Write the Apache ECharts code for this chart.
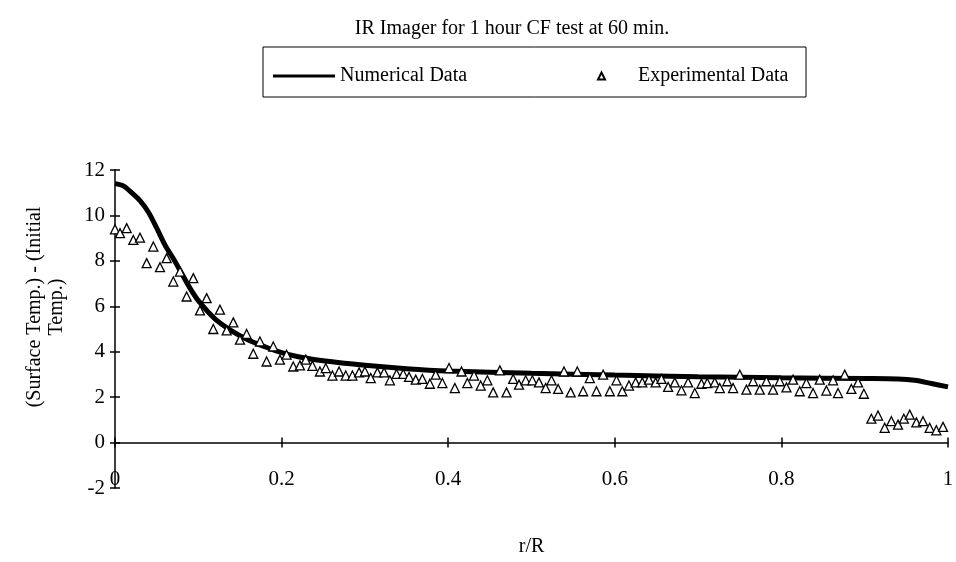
<!DOCTYPE html>
<html>
<head>
<meta charset="utf-8">
<script src="https://cdn.jsdelivr.net/npm/echarts@6/dist/echarts.min.js"></script>
<style>html,body{margin:0;padding:0;background:#fff}#c{width:956px;height:562px}</style>
</head>
<body>
<div id="c"></div>
<script>
var titleText = 'IR Imager for 1 hour CF test at 60 min.';
var seriesNames = ['Numerical Data', 'Experimental Data'];
var xTitle = 'r/R';
var yTitle = '(Surface Temp.) - (Initial\nTemp.)';

var numR = [0, 0.01, 0.02, 0.03, 0.04, 0.05, 0.06, 0.07, 0.08, 0.09, 0.10, 0.12, 0.14, 0.16, 0.18, 0.20, 0.22, 0.25, 0.30, 0.35, 0.40, 0.50, 0.60, 0.70, 0.80, 0.90, 0.94, 0.96, 0.98, 1.00];
var numY = [11.4, 11.3, 11.0, 10.65, 10.15, 9.45, 8.7, 8.1, 7.45, 6.8, 6.25, 5.45, 4.92, 4.52, 4.22, 3.96, 3.78, 3.6, 3.4, 3.25, 3.15, 3.05, 2.97, 2.9, 2.85, 2.82, 2.8, 2.74, 2.6, 2.45];

var expR = [0.000,0.006,0.014,0.022,0.030,0.038,0.046,0.054,0.062,0.070,
0.078,0.086,0.094,0.102,0.110,0.118,0.126,0.134,0.142,0.150,
0.158,0.166,0.174,0.182,0.190,0.198,0.206,0.214,0.222,0.229,
0.237,0.246,0.253,0.261,0.269,0.277,0.285,0.293,0.300,0.307,
0.315,0.323,0.330,0.338,0.346,0.353,0.361,0.369,0.378,0.385,
0.393,0.401,0.408,0.416,0.423,0.431,0.439,0.447,0.454,0.462,
0.470,0.478,0.485,0.493,0.501,0.509,0.517,0.524,0.532,0.539,
0.547,0.555,0.562,0.570,0.578,0.586,0.594,0.602,0.609,0.617,
0.625,0.633,0.641,0.649,0.656,0.664,0.672,0.680,0.688,0.696,
0.704,0.711,0.720,0.726,0.735,0.742,0.750,0.758,0.766,0.774,
0.782,0.790,0.798,0.806,0.814,0.822,0.830,0.838,0.846,0.854,
0.862,0.868,0.876,0.884,0.892,0.899,0.908,0.916,0.924,0.932,
0.940,0.947,0.954,0.962,0.970,0.978,0.986,0.994];
var expY = [9.39,9.22,9.44,8.92,9.02,7.90,8.63,7.72,8.12,7.09,
7.53,6.43,7.24,5.82,6.36,5.00,5.85,4.94,5.29,4.53,
4.78,3.91,4.45,3.57,4.23,3.65,3.87,3.35,3.40,3.65,
3.38,3.13,3.28,2.95,3.13,2.95,2.95,3.09,3.13,2.84,
3.09,3.09,2.74,3.02,3.02,2.89,2.77,2.80,2.59,2.99,
2.62,3.28,2.40,3.13,2.62,2.95,2.51,2.74,2.21,3.18,
2.21,2.80,2.55,2.74,2.74,2.65,2.40,2.74,2.36,3.13,
2.21,3.13,2.26,2.84,2.26,2.99,2.26,2.74,2.26,2.51,
2.65,2.65,2.77,2.65,2.80,2.45,2.65,2.30,2.65,2.18,
2.59,2.62,2.65,2.40,2.70,2.40,2.99,2.33,2.70,2.33,
2.70,2.33,2.70,2.43,2.77,2.26,2.62,2.18,2.77,2.29,
2.74,2.18,2.99,2.36,2.65,2.15,1.05,1.19,0.65,0.94,
0.79,1.05,1.23,0.89,0.94,0.65,0.54,0.69];

var FONT = '"Liberation Serif", "DejaVu Serif", serif';
var numData = numR.map(function (r, i) { return [r, numY[i]]; });
var expData = expR.map(function (r, i) { return [r, expY[i]]; });

var chart = echarts.init(document.getElementById('c'), null, {renderer: 'canvas'});
var axisLineStyle = {color: '#000', width: 1.5};
chart.setOption({
  backgroundColor: '#fff',
  animation: false,
  title: {
    text: titleText, left: 507, top: 14, textAlign: 'center',
    textStyle: {fontFamily: FONT, fontSize: 20, fontWeight: 'normal', color: '#000'}
  },
  legend: [
    {
      data: [{name: seriesNames[0], icon: 'rect'}],
      left: 268, top: 61, itemWidth: 62, itemHeight: 3,
      textStyle: {fontFamily: FONT, fontSize: 20, color: '#000'}
    },
    {
      data: [{name: seriesNames[1], icon: 'triangle'}],
      left: 592, top: 61, itemWidth: 7, itemHeight: 7,
      textStyle: {fontFamily: FONT, fontSize: 20, color: '#000', padding: [0, 0, 0, 28]}
    }
  ],
  graphic: [
    {type: 'rect', shape: {x: 263, y: 47, width: 543, height: 50}, style: {fill: 'none', stroke: '#000', lineWidth: 1}},
    {type: 'text', x: 46, y: 307, rotation: Math.PI / 2,
     style: {text: yTitle, font: '20px ' + FONT, fill: '#000', align: 'center', verticalAlign: 'middle', lineHeight: 22}}
  ],
  grid: {left: 115, right: 8, top: 170, bottom: 74, outerBoundsMode: 'none', containLabel: false},
  xAxis: [
    {
      type: 'value', min: 0, max: 1, interval: 0.2, position: 'bottom',
      name: xTitle, nameLocation: 'middle', nameGap: 49,
      nameTextStyle: {fontFamily: FONT, fontSize: 20, color: '#000'},
      axisLine: {show: true, onZero: true, onZeroAxisIndex: 0, lineStyle: axisLineStyle},
      axisTick: {show: true, length: 5, lineStyle: {color: '#000', width: 1.5}},
      axisLabel: {margin: -19, fontFamily: FONT, fontSize: 21, color: '#000'},
      splitLine: {show: false}
    },
    {
      type: 'value', min: 0, max: 1, interval: 0.2, position: 'bottom',
      axisLine: {show: false, onZero: true, onZeroAxisIndex: 0},
      axisTick: {show: true, inside: true, length: 5, lineStyle: {color: '#000', width: 1.5}},
      axisLabel: {show: false}, splitLine: {show: false}
    }
  ],
  yAxis: [
    {
      type: 'value', min: -2, max: 12, interval: 2, position: 'left',
      axisLine: {show: true, onZero: false, lineStyle: axisLineStyle},
      axisTick: {show: true, length: 5, lineStyle: {color: '#000', width: 1.5}},
      axisLabel: {margin: 10, fontFamily: FONT, fontSize: 21, color: '#000'},
      splitLine: {show: false}
    },
    {
      type: 'value', min: -2, max: 12, interval: 2, position: 'left',
      axisLine: {show: false, onZero: false},
      axisTick: {show: true, inside: true, length: 5, lineStyle: {color: '#000', width: 1.5}},
      axisLabel: {show: false}, splitLine: {show: false}
    }
  ],
  series: [
    {
      name: seriesNames[0], type: 'line', data: numData, xAxisIndex: 0, yAxisIndex: 0,
      showSymbol: false, symbol: 'none', smooth: 0.3,
      lineStyle: {color: '#000', width: 5}, itemStyle: {color: '#000'}, z: 2
    },
    {
      name: seriesNames[1], type: 'scatter', data: expData, xAxisIndex: 0, yAxisIndex: 0,
      symbol: 'triangle', symbolSize: 9,
      itemStyle: {color: '#fff', borderColor: '#000', borderWidth: 1.3, opacity: 1}, z: 3
    }
  ]
});
</script>
</body>
</html>
